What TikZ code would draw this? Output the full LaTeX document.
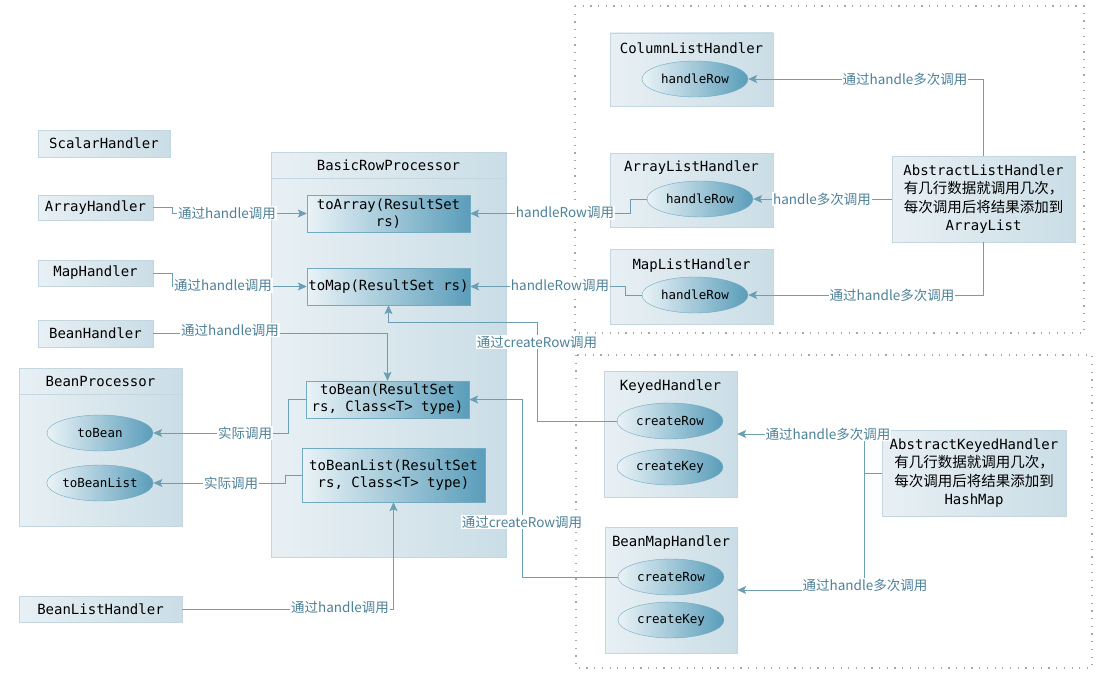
\documentclass[tikz,border=0pt]{standalone}
\usepackage{fontspec}
\setmonofont{DejaVu Sans Mono}
\newfontfamily\cjk{Noto Sans CJK SC}
\usepackage{tikz}
\usetikzlibrary{shapes,shapes.geometric,arrows,arrows.meta,calc,positioning}

\definecolor{boxL}{HTML}{E8F0F4}
\definecolor{boxR}{HTML}{CADDE6}
\definecolor{boxline}{HTML}{C4D7E0}
\definecolor{methL}{HTML}{EAF3F7}
\definecolor{methR}{HTML}{5A9DBA}
\definecolor{methline}{HTML}{72AAC1}
\definecolor{wirecol}{HTML}{6C9FB4}
\definecolor{labeltext}{HTML}{4E8198}
\definecolor{dotline}{HTML}{A8A8A8}

\newcommand{\monotext}{\ttfamily\fontsize{14}{17}\selectfont}
\newcommand{\elltext}{\ttfamily\fontsize{12.5}{15}\selectfont}
\newcommand{\lbltext}{\cjk\fontsize{13.5}{15}\selectfont}

\begin{document}
\begin{tikzpicture}[x=1pt,y=-1pt]
	\tikzstyle{hbox}=[rectangle, draw=boxline, left color=boxL, right color=boxR, inner sep=0pt, font=\monotext]
	\tikzstyle{mbox}=[rectangle, draw=methline, left color=methL, right color=methR, inner sep=0pt, align=center, font=\monotext]
	\tikzstyle{mell}=[ellipse, draw=methline, left color=methL, right color=methR, inner sep=0pt, minimum width=106, minimum height=36, font=\elltext]
	\tikzstyle{ttl}=[inner sep=0pt, font=\monotext]
	\tikzstyle{wire}=[draw=wirecol, line width=0.9pt, -{Stealth[length=9pt,width=8pt,inset=2pt]}]
	\tikzstyle{calllbl}=[fill=white, inner sep=1pt, text=labeltext, font=\lbltext]
	\tikzstyle{region}=[draw=dotline, line width=1.2pt, dash pattern=on 1.2pt off 6.5pt]
	\useasboundingbox (0,0) rectangle (1105,677);

	% dotted regions
	\draw[region] (575,6) rectangle (1084,333);
	\draw[region] (576,355) rectangle (1092,668);

	% left handlers
	\node[hbox, minimum width=132, minimum height=27] (scalarH) at (104,143.5) {ScalarHandler};
	\node[hbox, minimum width=115, minimum height=25] (arrayH) at (95.5,207.5) {ArrayHandler};
	\node[hbox, minimum width=115, minimum height=26] (mapH) at (95.5,273) {MapHandler};
	\node[hbox, minimum width=115, minimum height=27] (beanH) at (95.5,333.5) {BeanHandler};
	\node[hbox, minimum width=163, minimum height=26] (beanListH) at (100.5,609) {BeanListHandler};

	% BasicRowProcessor
	\node[hbox, minimum width=235, minimum height=405] (basic) at (388.5,354.5) {};
	\draw[boxline] ($(basic.north west)+(0,26)$) -- ($(basic.north east)+(0,26)$);
	\node[ttl] at (388.5,165) {BasicRowProcessor};
	\node[mbox, minimum width=163, minimum height=37] (toArray) at (388.5,213.5) {toArray(ResultSet\\rs)};
	\node[mbox, minimum width=163, minimum height=37] (toMap) at (388.5,286.5) {toMap(ResultSet rs)};
	\node[mbox, minimum width=163, minimum height=37] (toBean) at (387.5,399.5) {toBean(ResultSet\\rs, Class<T> type)};
	\node[mbox, minimum width=183, minimum height=54] (toBeanList) at (393.5,475) {toBeanList(ResultSet\\rs, Class<T> type)};

	% BeanProcessor
	\node[hbox, minimum width=163, minimum height=158] (beanProc) at (100.5,447) {};
	\draw[boxline] ($(beanProc.north west)+(0,26)$) -- ($(beanProc.north east)+(0,26)$);
	\node[ttl] at (100.5,381) {BeanProcessor};
	\node[mell] (bpBean) at (100,433) {toBean};
	\node[mell] (bpList) at (100,483) {toBeanList};

	% list handlers
	\node[hbox, minimum width=163, minimum height=73] (colList) at (691.5,69.5) {};
	\node[ttl] at (691.5,48) {ColumnListHandler};
	\node[mell] (colRow) at (695,79) {handleRow};
	\node[hbox, minimum width=163, minimum height=74] (arrList) at (691.5,190) {};
	\node[ttl] at (691.5,168) {ArrayListHandler};
	\node[mell] (arrRow) at (700,199) {handleRow};
	\node[hbox, minimum width=163, minimum height=75] (mapList) at (691.5,286.5) {};
	\node[ttl] at (691.5,266) {MapListHandler};
	\node[mell] (mapRow) at (695,295) {handleRow};
	\node[hbox, minimum width=183, minimum height=86, align=center, font=\ttfamily\fontsize{14}{18.5}\selectfont] (absList) at (983.5,199)
		{AbstractListHandler\\{\cjk\fontsize{14.5}{18.5}\selectfont 有几行数据就调用几次，}\\{\cjk\fontsize{14.5}{18.5}\selectfont 每次调用后将结果添加到}\\ArrayList};

	% keyed handlers
	\node[hbox, minimum width=133, minimum height=126] (keyed) at (670.5,434) {};
	\node[ttl] at (670.5,387) {KeyedHandler};
	\node[mell] (kRow) at (670,421) {createRow};
	\node[mell] (kKey) at (670,467) {createKey};
	\node[hbox, minimum width=132, minimum height=126] (beanMap) at (671,590) {};
	\node[ttl] at (671,543) {BeanMapHandler};
	\node[mell] (bmRow) at (671,577) {createRow};
	\node[mell] (bmKey) at (671,620) {createKey};
	\node[hbox, minimum width=184, minimum height=86, align=center, font=\ttfamily\fontsize{14}{18.5}\selectfont] (absKeyed) at (974,473)
		{AbstractKeyedHandler\\{\cjk\fontsize{14.5}{18.5}\selectfont 有几行数据就调用几次，}\\{\cjk\fontsize{14.5}{18.5}\selectfont 每次调用后将结果添加到}\\HashMap};

	% connectors
	\draw[wire] (arrayH.east) -| (172,213.5) -- (toArray.west);
	\draw[wire] (mapH.east) -| (172,286.5) -- (toMap.west);
	\draw[wire] (beanH.east) -| (toBean.north);
	\draw[wire] (kRow.west) -| (537,322) -| (toMap.south);
	\draw[wire] (bmRow.west) -| (522,399.5) -- (toBean.east);
	\draw[wire] (toBean.west) -| (288,433) -- (bpBean.east);
	\draw[wire] (toBeanList.west) -| (285,483) -- (bpList.east);
	\draw[wire] (beanListH.east) -| (toBeanList.south);
	\draw[wire] (arrRow.west) -| (630,213.5) -- (toArray.east);
	\draw[wire] (mapRow.west) -| (625,286.5) -- (toMap.east);
	\draw[wire] (absList.north) |- (colRow.east);
	\draw[wire] (absList.west) -- (arrRow.east);
	\draw[wire] (absList.south) |- (mapRow.east);
	\draw[wire] (absKeyed.west) -- (864,473) |- (keyed.east);
	\draw[wire] (absKeyed.west) -- (864,473) |- (beanMap.east);

	% labels
	\node[calllbl] at (227,213) {通过handle调用};
	\node[calllbl] at (223,285.5) {通过handle调用};
	\node[calllbl] at (230,330) {通过handle调用};
	\node[calllbl] at (537,342) {通过createRow调用};
	\node[calllbl] at (522,522) {通过createRow调用};
	\node[calllbl] at (245,433) {实际调用};
	\node[calllbl] at (231,483) {实际调用};
	\node[calllbl] at (340,607) {通过handle调用};
	\node[calllbl] at (565,213) {handleRow调用};
	\node[calllbl] at (560,286) {handleRow调用};
	\node[calllbl] at (905,79) {通过handle多次调用};
	\node[calllbl] at (822,199) {handle多次调用};
	\node[calllbl] at (892,295) {通过handle多次调用};
	\node[calllbl] at (828,434) {通过handle多次调用};
	\node[calllbl] at (865,585) {通过handle多次调用};
\end{tikzpicture}
\end{document}
